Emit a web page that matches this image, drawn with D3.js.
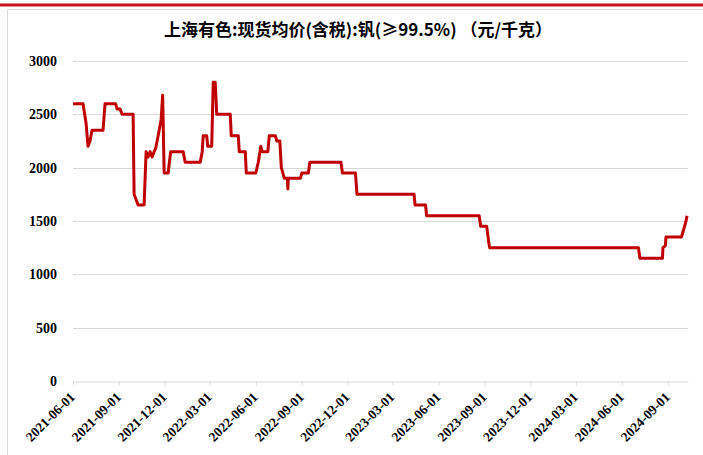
<!DOCTYPE html>
<html><head><meta charset="utf-8">
<script src="https://cdn.jsdelivr.net/npm/d3@7"></script>
<style>
html,body{margin:0;padding:0;background:#fff;}
svg{display:block;}
</style></head>
<body>
<script>
const title = "上海有色:现货均价(含税):钒(≥99.5%) （元/千克）";
const dates = [
"2021-06-01","2021-06-21","2021-06-27","2021-07-01","2021-07-05","2021-07-09","2021-07-31","2021-08-04","2021-08-25","2021-08-28",
"2021-09-03","2021-09-07","2021-09-29","2021-10-01","2021-10-09","2021-10-21","2021-10-25","2021-10-29","2021-11-02","2021-11-06",
"2021-11-10","2021-11-13","2021-11-18","2021-11-24","2021-11-27","2021-11-30","2021-12-08","2021-12-13","2022-01-07","2022-01-11",
"2022-02-10","2022-02-14","2022-02-16","2022-02-23","2022-02-25","2022-03-05","2022-03-08","2022-03-12","2022-03-15","2022-04-11",
"2022-04-13","2022-04-27","2022-04-29","2022-05-11","2022-05-13","2022-06-01","2022-06-06","2022-06-11","2022-06-14","2022-06-25",
"2022-06-28","2022-07-10","2022-07-13","2022-07-19","2022-07-22","2022-07-28","2022-08-03","2022-08-04","2022-08-05","2022-08-29",
"2022-09-01","2022-09-14","2022-09-17","2022-11-18","2022-11-21","2022-12-17","2022-12-20","2023-04-13","2023-04-15","2023-05-06",
"2023-05-08","2023-08-21","2023-08-24","2023-09-05","2023-09-07","2023-09-09","2023-09-11","2024-07-04","2024-07-07","2024-08-21",
"2024-08-22","2024-08-27","2024-08-28","2024-09-28","2024-10-03","2024-10-07","2024-10-09"
];
const values = [
2600,2600,2420,2200,2250,2350,2350,2600,2600,2550,
2550,2500,2500,1750,1650,1650,2150,2100,2150,2100,
2150,2180,2300,2450,2680,1950,1950,2150,2150,2050,
2050,2150,2300,2300,2200,2200,2800,2800,2500,2500,
2300,2300,2150,2150,1950,1950,2050,2200,2150,2150,
2300,2300,2250,2250,2000,1900,1900,1800,1900,1900,
1950,1950,2050,2050,1950,1950,1750,1750,1650,1650,
1550,1550,1450,1450,1380,1300,1250,1250,1150,1150,
1250,1270,1350,1350,1430,1500,1550
];
const yTicks = [0,500,1000,1500,2000,2500,3000];
const xTickLabels = ["2021-06-01","2021-09-01","2021-12-01","2022-03-01","2022-06-01","2022-09-01","2022-12-01","2023-03-01","2023-06-01","2023-09-01","2023-12-01","2024-03-01","2024-06-01","2024-09-01"];
const xDomainEnd = "2024-10-11";

const W = 703, H = 455;
const parse = d3.timeParse("%Y-%m-%d");
const data = dates.map((d,i)=>({date:parse(d), value:values[i]}));

const svg = d3.select("body").append("svg").attr("width",W).attr("height",H);

// top red band and frame
svg.append("line").attr("x1",0).attr("x2",W).attr("y1",5).attr("y2",5)
  .attr("stroke","#c8161e").attr("stroke-width",3);
svg.append("path").attr("d",`M7.5,${H}V9.5H${W}`).attr("fill","none")
  .attr("stroke","#d9d9d9").attr("stroke-width",1);

const x = d3.scaleTime().domain([parse(dates[0]), parse(xDomainEnd)]).range([73,688]);
const y = d3.scaleLinear().domain([0,3000]).range([381,61]);

// gridlines
svg.append("g").selectAll("line").data(yTicks.filter(v=>v>0)).join("line")
  .attr("x1",73).attr("x2",688)
  .attr("y1",d=>Math.round(y(d))+0.5).attr("y2",d=>Math.round(y(d))+0.5)
  .attr("stroke","#d9d9d9").attr("stroke-width",1);

// y labels
svg.append("g").selectAll("text").data(yTicks).join("text")
  .attr("x",57).attr("y",d=>y(d)).attr("dy","0.35em")
  .attr("text-anchor","end")
  .attr("font-family","'Liberation Serif','Times New Roman',serif")
  .attr("font-weight","bold").attr("font-size",14).attr("fill","#000")
  .text(d=>d);

// x axis
const xAxis = d3.axisBottom(x)
  .tickValues(xTickLabels.map(parse))
  .tickFormat(d3.timeFormat("%Y-%m-%d"))
  .tickSize(4).tickSizeOuter(0);
const gx = svg.append("g").attr("transform",`translate(0,${Math.round(y(0))+0.5})`).call(xAxis);
gx.select(".domain").attr("stroke","#d9d9d9");
gx.selectAll(".tick line").attr("stroke","#d9d9d9");
gx.selectAll(".tick text")
  .attr("font-family","'Liberation Serif','Times New Roman',serif")
  .attr("font-weight","bold").attr("font-size",13.5).attr("fill","#000")
  .attr("text-anchor","end")
  .attr("transform","translate(-1,13) rotate(-45)")
  .attr("dy","0.35em").attr("y",0).attr("x",0);

// series
const line = d3.line().x(d=>x(d.date)).y(d=>y(d.value));
svg.append("path").datum(data).attr("d",line)
  .attr("fill","none").attr("stroke","#c00000").attr("stroke-width",3)
  .attr("stroke-linejoin","round");

// title
svg.append("text").attr("x",358).attr("y",36).attr("text-anchor","middle")
  .attr("font-family","'Noto Sans CJK SC',sans-serif").attr("font-weight","bold")
  .attr("font-size",17).attr("fill","#000").text(title);
</script>
</body></html>
